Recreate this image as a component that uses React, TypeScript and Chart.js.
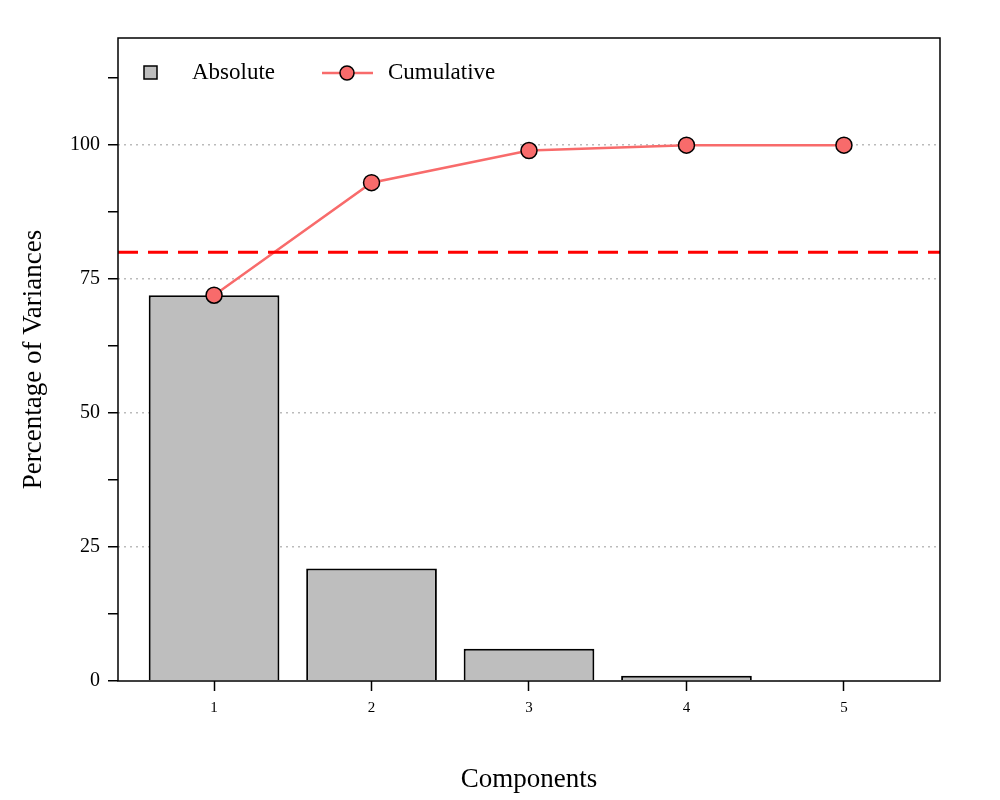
import React, { useEffect, useRef } from "react";
import Chart from "chart.js/auto";

const components = [1, 2, 3, 4, 5];
const absolute = [72, 21, 6, 1, 0.2];
const cumulative = [72, 93, 99, 100, 100];
const threshold = 80;
const yTicks = [0, 12.5, 25, 37.5, 50, 62.5, 75, 87.5, 100, 112.5];

const FONT = "'Liberation Serif', 'Times New Roman', serif";

const extras = {
  id: "extras",
  afterDraw(chart: any) {
    const { ctx, chartArea: a, scales } = chart;
    ctx.save();
    // threshold line
    const y = scales.y.getPixelForValue(threshold);
    ctx.strokeStyle = "#ff0000";
    ctx.lineWidth = 3;
    ctx.setLineDash([20, 10]);
    ctx.beginPath();
    ctx.moveTo(a.left, y);
    ctx.lineTo(a.right, y);
    ctx.stroke();
    ctx.setLineDash([]);
    // box
    ctx.strokeStyle = "#000";
    ctx.lineWidth = 1.5;
    ctx.strokeRect(a.left, a.top, a.right - a.left, a.bottom - a.top);
    // legend
    ctx.font = `23px ${FONT}`;
    ctx.textBaseline = "middle";
    ctx.fillStyle = "#bebebe";
    ctx.fillRect(144, 66, 13, 13);
    ctx.strokeRect(144, 66, 13, 13);
    ctx.fillStyle = "#000";
    ctx.fillText("Absolute", 192, 73);
    ctx.strokeStyle = "#f86b6b";
    ctx.lineWidth = 2.5;
    ctx.beginPath();
    ctx.moveTo(322, 73);
    ctx.lineTo(373, 73);
    ctx.stroke();
    ctx.fillStyle = "#f86b6b";
    ctx.strokeStyle = "#000";
    ctx.lineWidth = 1.5;
    ctx.beginPath();
    ctx.arc(347, 73, 7, 0, Math.PI * 2);
    ctx.fill();
    ctx.stroke();
    ctx.fillStyle = "#000";
    ctx.fillText("Cumulative", 388, 73);
    ctx.restore();
  },
};

const App: React.FC = () => {
  const canvasRef = useRef<HTMLCanvasElement | null>(null);
  const chartRef = useRef<Chart | null>(null);

  useEffect(() => {
    if (!canvasRef.current) return;
    if (chartRef.current) chartRef.current.destroy();
    const ctx = canvasRef.current.getContext("2d");
    if (!ctx) return;
    chartRef.current = new Chart(ctx, {
      type: "bar",
      data: {
        datasets: [
          {
            type: "line",
            label: "Cumulative",
            data: components.map((c, i) => ({ x: c, y: cumulative[i] })),
            borderColor: "#f86b6b",
            borderWidth: 2.5,
            pointBackgroundColor: "#f86b6b",
            pointBorderColor: "#000",
            pointBorderWidth: 1.5,
            pointRadius: 8,
            order: 0,
          } as any,
          {
            type: "bar",
            label: "Absolute",
            data: components.map((c, i) => ({ x: c, y: absolute[i] })),
            backgroundColor: "#bebebe",
            borderColor: "#000",
            borderWidth: 2,
            barPercentage: 0.83,
            categoryPercentage: 1,
            order: 1,
          },
        ],
      },
      options: {
        responsive: false,
        animation: false,
        layout: { padding: { top: 38, right: 60, left: 14, bottom: 0 } },
        plugins: { legend: { display: false }, tooltip: { enabled: false } },
        scales: {
          x: {
            type: "linear",
            min: 0.39,
            max: 5.61,
            offset: false,
            afterBuildTicks: (s: any) => {
              s.ticks = components.map((v) => ({ value: v }));
            },
            afterFit: (s: any) => {
              s.height = 119;
            },
            grid: { offset: false, drawOnChartArea: false, tickLength: 10, tickColor: "#000", tickWidth: 1.5 },
            border: { display: false },
            ticks: { color: "#000", font: { family: FONT, size: 15 }, padding: 8 },
            title: {
              display: true,
              text: "Components",
              color: "#000",
              font: { family: FONT, size: 27 },
              padding: { top: 4 },
            },
          },
          y: {
            min: 0,
            max: 120,
            afterBuildTicks: (s: any) => {
              s.ticks = yTicks.map((v) => ({ value: v }));
            },
            afterFit: (s: any) => {
              s.width = 104;
            },
            grid: {
              color: (c: any) =>
                c.tick && c.tick.value > 0 && c.tick.value % 25 === 0 ? "#bbbbbb" : "rgba(0,0,0,0)",
              lineWidth: 1.5,
              tickLength: 10,
              tickColor: "#000",
              tickWidth: 1.5,
              tickBorderDash: [],
            } as any,
            border: { display: false, dash: [2, 4] },
            ticks: {
              color: "#000",
              font: { family: FONT, size: 20 },
              padding: 8,
              callback: (v: any) => (Number(v) % 25 === 0 ? String(v) : ""),
            },
            title: {
              display: true,
              text: "Percentage of Variances",
              color: "#000",
              font: { family: FONT, size: 27 },
              padding: { bottom: 8 },
            },
          },
        },
      },
      plugins: [extras],
    });
    return () => {
      if (chartRef.current) chartRef.current.destroy();
      chartRef.current = null;
    };
  }, []);

  return (
    <div style={{ position: "absolute", left: 0, top: 0, width: 1000, height: 800, background: "#fff" }}>
      <canvas ref={canvasRef} width={1000} height={800} />
    </div>
  );
};

export default App;
